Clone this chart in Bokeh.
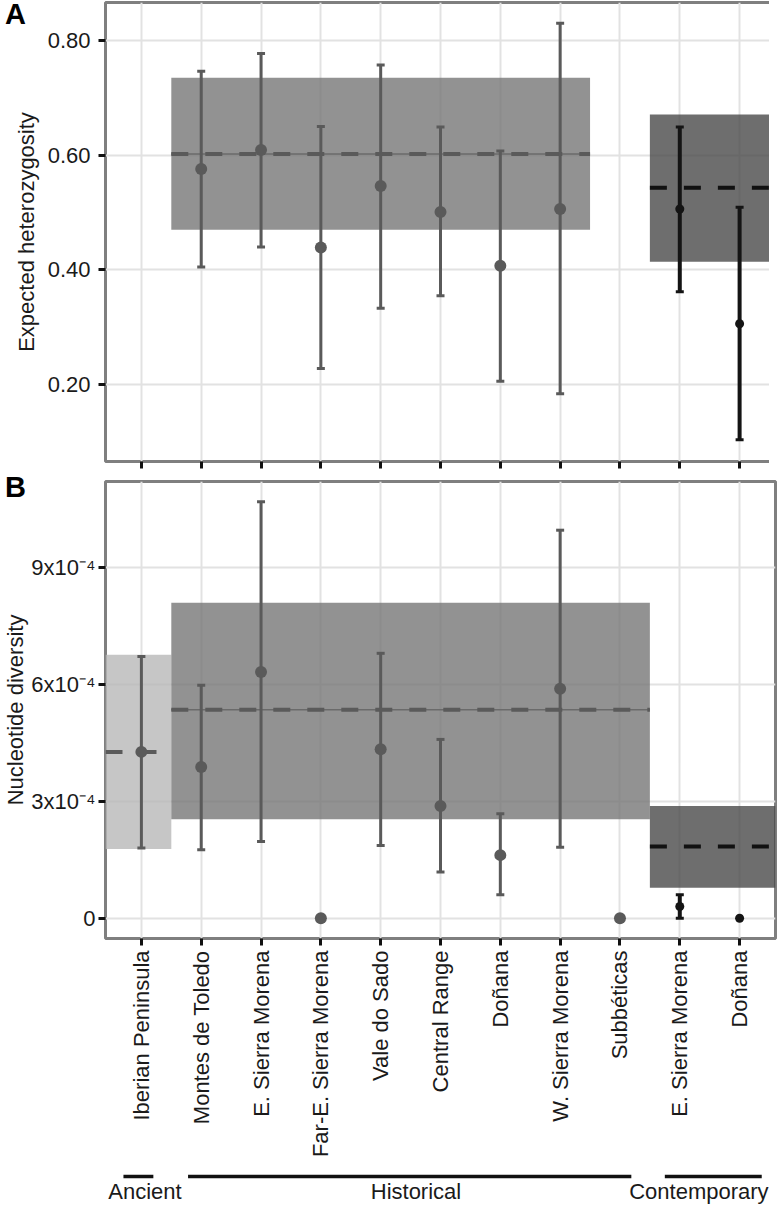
import math
from bokeh.plotting import figure
from bokeh.models import (Range1d, FixedTicker, NumeralTickFormatter,
                          CustomJSTickFormatter, ColumnDataSource, Div,
                          GridBox)
from bokeh.embed import file_html
from bokeh.resources import INLINE
from bokeh.core.properties import value

nan = float("nan")

# ---------------- data ----------------
sites = ["Iberian Peninsula", "Montes de Toledo", "E. Sierra Morena",
         "Far-E. Sierra Morena", "Vale do Sado", "Central Range", "Doñana",
         "W. Sierra Morena", "Subbéticas", "E. Sierra Morena", "Doñana"]
periods = ["Ancient"] + ["Historical"] * 8 + ["Contemporary"] * 2
site_pos = list(range(1, len(sites) + 1))

# Expected heterozygosity (panel A)
he_mid = [nan, 0.576, 0.609, 0.439, 0.546, 0.501, 0.407, 0.506, nan, 0.506, 0.306]
he_low = [nan, 0.405, 0.440, 0.228, 0.333, 0.355, 0.206, 0.184, nan, 0.362, 0.104]
he_high = [nan, 0.746, 0.777, 0.650, 0.757, 0.649, 0.607, 0.830, nan, 0.649, 0.509]

# Nucleotide diversity (panel B)
pi_mid = [4.27e-4, 3.88e-4, 6.32e-4, 0.0, 4.34e-4, 2.88e-4, 1.62e-4, 5.89e-4, 0.0, 0.30e-4, 0.0]
pi_low = [1.80e-4, 1.76e-4, 1.97e-4, nan, 1.87e-4, 1.19e-4, 0.60e-4, 1.82e-4, nan, 0.0, nan]
pi_high = [6.72e-4, 5.98e-4, 10.69e-4, nan, 6.80e-4, 4.59e-4, 2.68e-4, 9.96e-4, nan, 0.60e-4, nan]

# period summaries (mean and interval), with the site span they cover
he_band_period = ["Historical", "Contemporary"]
he_band_start = [1.5, 9.5]
he_band_end = [8.5, 11.6]
he_band_mean = [0.602, 0.543]
he_band_low = [0.470, 0.414]
he_band_high = [0.735, 0.671]

pi_band_period = ["Ancient", "Historical", "Contemporary"]
pi_band_start = [0.4, 1.5, 9.5]
pi_band_end = [1.5, 9.5, 11.6]
pi_band_mean = [4.27e-4, 5.35e-4, 1.84e-4]
pi_band_low = [1.78e-4, 2.54e-4, 0.78e-4]
pi_band_high = [6.76e-4, 8.10e-4, 2.88e-4]

he_ticks = [0.2, 0.4, 0.6, 0.8]
pi_ticks = [0.0, 3e-4, 6e-4, 9e-4]
pi_tick_labels = ["0", "3x10⁻⁴", "6x10⁻⁴", "9x10⁻⁴"]

group_names = ["Ancient", "Historical", "Contemporary"]
group_line_start = [0.70, 1.78, 9.75]
group_line_end = [1.20, 9.19, 11.37]
group_label_x = [1.06, 5.59, 10.32]

panel_letters = ["A", "B"]

# ---------------- styles ----------------
FONT = "Liberation Sans"
band_fill = {"Ancient": "#b8b8b8", "Historical": "#777777", "Contemporary": "#4a4a4a"}
mark_col = {"Ancient": "#5a5a5a", "Historical": "#5a5a5a", "Contemporary": "#141414"}
mean_col = {"Ancient": "#5a5a5a", "Historical": "#5a5a5a", "Contemporary": "#111111"}
pt_size = {"Ancient": 12, "Historical": 12, "Contemporary": 9}
stem_w = {"Ancient": 3, "Historical": 3, "Contemporary": 4}

FRAME_W = 670
LEFT = 96
RIGHT = 3
X0, X1 = 0.4, 11.6


def style_axes(p):
    for ax in (p.xaxis, p.yaxis):
        ax.axis_line_color = None
        ax.major_tick_line_color = "#111111"
        ax.major_tick_line_width = 3
        ax.major_tick_out = 7
        ax.major_tick_in = 0
        ax.minor_tick_line_color = None
        ax.major_label_text_font = FONT
        ax.major_label_text_font_size = "22px"
        ax.major_label_text_color = "#1a1a1a"
        ax.axis_label_text_font = FONT
        ax.axis_label_text_font_size = "22px"
        ax.axis_label_text_font_style = "normal"
        ax.axis_label_text_color = "#1a1a1a"


def base_panel(frame_h, yr, yticks, top, bottom):
    p = figure(frame_width=FRAME_W, frame_height=frame_h,
               x_range=Range1d(X0, X1), y_range=yr,
               output_backend="svg", toolbar_location=None,
               min_border_left=LEFT, min_border_right=RIGHT,
               min_border_top=top, min_border_bottom=bottom)
    p.outline_line_color = "#7f7f7f"
    p.outline_line_width = 3
    p.xaxis.ticker = FixedTicker(ticks=site_pos)
    p.yaxis.ticker = FixedTicker(ticks=yticks)
    p.xgrid.ticker = FixedTicker(ticks=site_pos)
    p.ygrid.ticker = FixedTicker(ticks=yticks)
    for g in (p.xgrid, p.ygrid):
        g.grid_line_color = "#e2e2e2"
        g.grid_line_width = 2
    style_axes(p)
    return p


def letter_div(letter):
    return Div(text=letter, width=30, height=32, align="start",
               styles={"font-family": FONT, "font-size": "29px",
                       "font-weight": "bold", "color": "#000000",
                       "line-height": "1", "margin-top": "0px",
                       "background": "transparent"})


def draw(p, mid, low, high, b_period, b_start, b_end, b_mean, b_low, b_high):
    # summary bands
    p.quad(left=b_start, right=b_end, top=b_high, bottom=b_low,
           fill_color=[band_fill[k] for k in b_period], fill_alpha=0.8,
           line_color=None)
    hist = [i for i, k in enumerate(b_period) if k == "Historical"]
    p.segment(x0=[b_start[i] for i in hist], x1=[b_end[i] for i in hist],
              y0=[b_mean[i] for i in hist], y1=[b_mean[i] for i in hist],
              line_color="#6a6a6a", line_width=1.5)
    p.segment(x0=b_start, x1=b_end, y0=b_mean, y1=b_mean,
              line_color=[mean_col[k] for k in b_period],
              line_width=4, line_dash="17 17")
    # error bars
    idx = [i for i in range(len(sites)) if not math.isnan(low[i])]
    src = ColumnDataSource(dict(
        x=[site_pos[i] for i in idx], lo=[low[i] for i in idx],
        hi=[high[i] for i in idx],
        c=[mark_col[periods[i]] for i in idx],
        w=[stem_w[periods[i]] for i in idx]))
    p.segment(x0="x", x1="x", y0="lo", y1="hi", line_color="c",
              line_width="w", source=src)
    p.scatter(x="x", y="lo", marker="dash", size=8, line_width=3,
              line_color="c", source=src)
    p.scatter(x="x", y="hi", marker="dash", size=8, line_width=3,
              line_color="c", source=src)
    # points
    pidx = [i for i in range(len(sites)) if not math.isnan(mid[i])]
    psrc = ColumnDataSource(dict(
        x=[site_pos[i] for i in pidx], y=[mid[i] for i in pidx],
        c=[mark_col[periods[i]] for i in pidx],
        s=[pt_size[periods[i]] for i in pidx]))
    p.scatter(x="x", y="y", size="s", fill_color="c", line_color=None,
              source=psrc)


# ---------------- panel A ----------------
FA = 459
pa = base_panel(FA, Range1d(0.066, 0.866), he_ticks, 2, 12)
pa.yaxis.formatter = NumeralTickFormatter(format="0.00")
pa.yaxis.axis_label = "Expected heterozygosity"
pa.yaxis.major_label_standoff = 8
pa.yaxis.axis_label_standoff = 6
pa.xaxis.formatter = CustomJSTickFormatter(code="return ''")
pa.xaxis.major_label_text_font_size = "0px"
pa.xaxis.major_label_standoff = 0
draw(pa, he_mid, he_low, he_high, he_band_period, he_band_start,
     he_band_end, he_band_mean, he_band_low, he_band_high)

# ---------------- panel B ----------------
FB = 457
pb = base_panel(FB, Range1d(-0.52e-4, 11.21e-4), pi_ticks, 8, 224)
pb.yaxis.major_label_overrides = dict(zip(pi_ticks, pi_tick_labels))
pb.yaxis.axis_label = "Nucleotide diversity"
pb.yaxis.major_label_standoff = 3
pb.yaxis.axis_label_standoff = 0
pb.xaxis.major_label_overrides = dict(zip(site_pos, sites))
pb.xaxis.major_label_orientation = math.pi / 2
pb.xaxis.major_label_standoff = 5
draw(pb, pi_mid, pi_low, pi_high, pi_band_period, pi_band_start,
     pi_band_end, pi_band_mean, pi_band_low, pi_band_high)

# ---------------- period groups ----------------
pc = figure(frame_width=FRAME_W, frame_height=42, x_range=pb.x_range,
            y_range=Range1d(0, 42), output_backend="svg",
            toolbar_location=None, x_axis_location=None,
            y_axis_location=None, min_border_left=LEFT,
            min_border_right=RIGHT, min_border_top=0, min_border_bottom=0)
pc.outline_line_color = None
pc.grid.visible = False
pc.segment(x0=group_line_start, x1=group_line_end, y0=28, y1=28,
           line_color="#111111", line_width=3.5)
pc.text(x=group_label_x, y=1, text=group_names, text_font=value(FONT),
        text_font_size="22px", text_align="center",
        text_baseline="bottom", text_color="#1a1a1a")

# panel letters overlaid on the top-left corner of each panel
layout = GridBox(children=[
    (pa, 0, 0), (letter_div(panel_letters[0]), 0, 0),
    (pb, 1, 0), (letter_div(panel_letters[1]), 1, 0),
    (pc, 2, 0),
])
open("out.html", "w").write(file_html(layout, INLINE))
